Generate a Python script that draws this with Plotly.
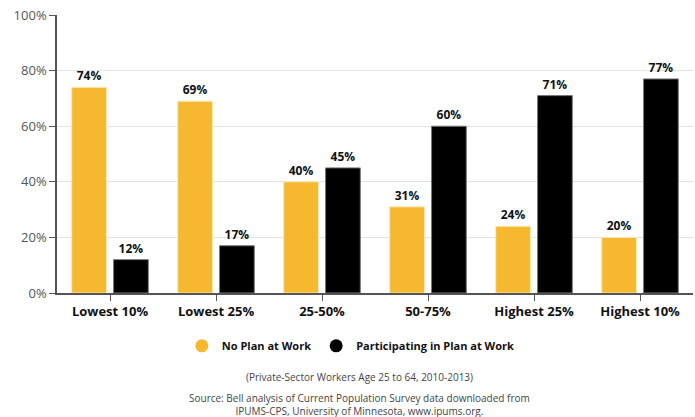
import plotly.graph_objects as go

categories = ["Lowest 10%", "Lowest 25%", "25-50%", "50-75%", "Highest 25%", "Highest 10%"]
no_plan = [74, 69, 40, 31, 24, 20]
participating = [12, 17, 45, 60, 71, 77]
y_ticks = [0, 20, 40, 60, 80, 100]
y_tick_labels = ["0%", "20%", "40%", "60%", "80%", "100%"]

YELLOW = "#F5B82E"
BLACK = "#000000"
FONT = "Open Sans, DejaVu Sans, sans-serif"


def pct_labels(values):
    return [f"<b>{v}%</b>" for v in values]


fig = go.Figure()

fig.add_trace(go.Bar(
    x=categories, y=no_plan, name="No Plan at Work",
    marker=dict(color=YELLOW, line=dict(color="#FCE9B8", width=1)),
    text=pct_labels(no_plan), textposition="outside", texttemplate="%{text}",
    textfont=dict(size=12, color="#111", family=FONT),
    cliponaxis=False, showlegend=False,
))
fig.add_trace(go.Bar(
    x=categories, y=participating, name="Participating in Plan at Work",
    marker=dict(color=BLACK, line=dict(color="#777", width=1)),
    text=pct_labels(participating), textposition="outside", texttemplate="%{text}",
    textfont=dict(size=12, color="#111", family=FONT),
    cliponaxis=False, showlegend=False,
))

# circle markers for the legend
for name, col in [("No Plan at Work", YELLOW), ("Participating in Plan at Work", BLACK)]:
    fig.add_trace(go.Scatter(
        x=[None], y=[None], mode="markers", name=name,
        marker=dict(color=col, size=13, symbol="circle"),
    ))

fig.update_layout(
    width=695, height=417,
    margin=dict(l=57, r=2, t=15, b=124),
    paper_bgcolor="white", plot_bgcolor="white",
    barmode="group", bargap=0.21, bargroupgap=0.17,
    font=dict(family=FONT, color="#222"),
    showlegend=True,
    legend=dict(
        orientation="h", x=0.462, xanchor="center", y=-0.19, yanchor="middle",
        font=dict(size=11, color="#111", family=FONT, weight="bold"),
        itemwidth=30, traceorder="normal",
    ),
    xaxis=dict(
        showline=True, linecolor="#555", linewidth=1.5,
        ticks="outside", ticklen=6, tickcolor="#555",
        tickfont=dict(size=13, color="#111", family=FONT, weight="bold"),
        range=[-0.5, 5.5], showgrid=False, fixedrange=True,
    ),
    yaxis=dict(
        range=[0, 100], tickvals=y_ticks, ticktext=y_tick_labels,
        showline=True, linecolor="#555", linewidth=1.5,
        ticks="outside", ticklen=6, tickcolor="#555",
        tickfont=dict(size=13, color="#555", family=FONT),
        showgrid=True, gridcolor="#E3E3E3", gridwidth=1,
        zeroline=False,
    ),
    annotations=[
        dict(text="(Private-Sector Workers Age 25 to 64, 2010-2013)",
             xref="paper", yref="paper", x=0.475, y=-0.302, yanchor="middle",
             showarrow=False, font=dict(size=10, color="#444", family=FONT)),
        dict(text="Source: Bell analysis of Current Population Survey data downloaded from<br>"
                  "IPUMS-CPS, University of Minnesota, www.ipums.org.",
             xref="paper", yref="paper", x=0.475, y=-0.40, yanchor="middle",
             showarrow=False, font=dict(size=10, color="#444", family=FONT)),
    ],
)

fig.write_html("out.html")
